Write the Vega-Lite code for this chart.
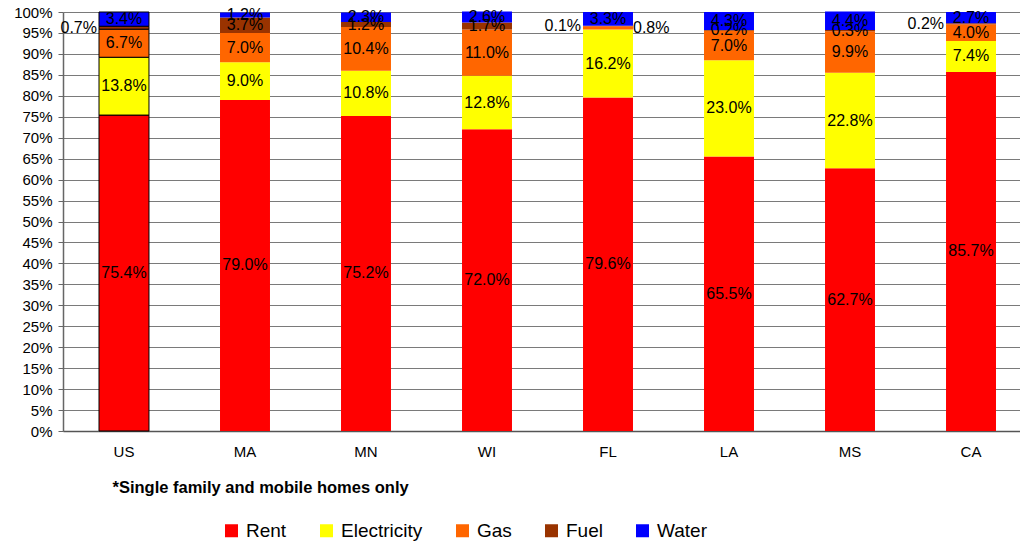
{
  "$schema": "https://vega.github.io/schema/vega-lite/v6.json",
  "autosize": {"type": "none"},
  "padding": {"left": 63, "top": 12, "right": 0, "bottom": 112},
  "width": 957,
  "height": 419,
  "background": "white",
  "config": {
    "view": {"stroke": null},
    "font": "Liberation Sans",
    "axis": {"labelFont": "Liberation Sans", "titleFont": "Liberation Sans", "labelColor": "black", "titleColor": "black"},
    "legend": {"labelFont": "Liberation Sans"}
  },
  "data": {
    "values": [
      {"state": "US", "type": "Rent", "value": 75.4},
      {"state": "US", "type": "Electricity", "value": 13.8},
      {"state": "US", "type": "Gas", "value": 6.7},
      {"state": "US", "type": "Fuel", "value": 0.7},
      {"state": "US", "type": "Water", "value": 3.4},
      {"state": "MA", "type": "Rent", "value": 79.0},
      {"state": "MA", "type": "Electricity", "value": 9.0},
      {"state": "MA", "type": "Gas", "value": 7.0},
      {"state": "MA", "type": "Fuel", "value": 3.7},
      {"state": "MA", "type": "Water", "value": 1.2},
      {"state": "MN", "type": "Rent", "value": 75.2},
      {"state": "MN", "type": "Electricity", "value": 10.8},
      {"state": "MN", "type": "Gas", "value": 10.4},
      {"state": "MN", "type": "Fuel", "value": 1.2},
      {"state": "MN", "type": "Water", "value": 2.3},
      {"state": "WI", "type": "Rent", "value": 72.0},
      {"state": "WI", "type": "Electricity", "value": 12.8},
      {"state": "WI", "type": "Gas", "value": 11.0},
      {"state": "WI", "type": "Fuel", "value": 1.7},
      {"state": "WI", "type": "Water", "value": 2.6},
      {"state": "FL", "type": "Rent", "value": 79.6},
      {"state": "FL", "type": "Electricity", "value": 16.2},
      {"state": "FL", "type": "Gas", "value": 0.8},
      {"state": "FL", "type": "Fuel", "value": 0.1},
      {"state": "FL", "type": "Water", "value": 3.3},
      {"state": "LA", "type": "Rent", "value": 65.5},
      {"state": "LA", "type": "Electricity", "value": 23.0},
      {"state": "LA", "type": "Gas", "value": 7.0},
      {"state": "LA", "type": "Fuel", "value": 0.2},
      {"state": "LA", "type": "Water", "value": 4.3},
      {"state": "MS", "type": "Rent", "value": 62.7},
      {"state": "MS", "type": "Electricity", "value": 22.8},
      {"state": "MS", "type": "Gas", "value": 9.9},
      {"state": "MS", "type": "Fuel", "value": 0.3},
      {"state": "MS", "type": "Water", "value": 4.4},
      {"state": "CA", "type": "Rent", "value": 85.7},
      {"state": "CA", "type": "Electricity", "value": 7.4},
      {"state": "CA", "type": "Gas", "value": 4.0},
      {"state": "CA", "type": "Fuel", "value": 0.2},
      {"state": "CA", "type": "Water", "value": 2.7}
    ]
  },
  "transform": [
    {"calculate": "indexof(['Rent','Electricity','Gas','Fuel','Water'], datum.type)", "as": "ord"},
    {"stack": "value", "groupby": ["state"], "sort": [{"field": "ord", "order": "ascending"}], "as": ["y0", "y1"]},
    {"calculate": "(datum.y0 + datum.y1) / 2", "as": "mid"},
    {"calculate": "format(datum.value, '.1f') + '%'", "as": "label"}
  ],
  "encoding": {
    "x": {
      "field": "state",
      "type": "nominal",
      "sort": ["US", "MA", "MN", "WI", "FL", "LA", "MS", "CA"],
      "scale": {"paddingInner": 0.587, "paddingOuter": 0.248, "align": 0.6},
      "axis": {
        "labelAngle": 0,
        "labelFontSize": 15,
        "labelPadding": 13,
        "ticks": false,
        "domainColor": "#555555",
        "domainWidth": 1.5,
        "title": "*Single family and mobile homes only",
        "titleFontSize": 16.5,
        "titleFontWeight": "bold",
        "titleAlign": "left",
        "titleBaseline": "middle",
        "titleX": 49,
        "titleY": 56
      }
    }
  },
  "layer": [
    {
      "mark": {"type": "bar"},
      "encoding": {
        "y": {
          "field": "y1",
          "type": "quantitative",
          "scale": {"domain": [0, 100], "nice": false},
          "axis": {
            "values": [0, 5, 10, 15, 20, 25, 30, 35, 40, 45, 50, 55, 60, 65, 70, 75, 80, 85, 90, 95, 100],
            "labelExpr": "datum.value + '%'",
            "labelOverlap": false,
            "labelFontSize": 15,
            "labelPadding": 6,
            "tickSize": 5,
            "tickColor": "#666666",
            "domainColor": "#666666",
            "domainWidth": 1.5,
            "grid": true,
            "gridColor": "#7a7a7a",
            "gridWidth": 1,
            "title": null
          }
        },
        "y2": {"field": "y0"},
        "color": {
          "field": "type",
          "type": "nominal",
          "sort": ["Rent", "Electricity", "Gas", "Fuel", "Water"],
          "scale": {
            "domain": ["Rent", "Electricity", "Gas", "Fuel", "Water"],
            "range": ["#FF0000", "#FFFF00", "#FF6600", "#993300", "#0000FF"]
          },
          "legend": {
            "orient": "none",
            "direction": "horizontal",
            "legendX": 159,
            "legendY": 509,
            "title": null,
            "padding": 0,
            "symbolType": "square",
            "symbolSize": 169,
            "symbolStrokeWidth": 0,
            "labelFontSize": 19,
            "labelColor": "black",
            "labelOffset": 5,
            "columnPadding": 30
          }
        },
        "stroke": {"condition": {"test": "datum.state === 'US'", "value": "black"}, "value": null},
        "strokeWidth": {"value": 1}
      }
    },
    {
      "transform": [
        {"filter": "!((datum.state === 'US' && datum.type === 'Fuel') || (datum.state === 'FL' && (datum.type === 'Fuel' || datum.type === 'Gas')) || (datum.state === 'CA' && datum.type === 'Fuel'))"}
      ],
      "mark": {"type": "text", "fontSize": 16, "color": "black", "baseline": "middle", "align": "center"},
      "encoding": {
        "y": {
          "field": "mid",
          "type": "quantitative",
          "axis": {
            "values": [0, 5, 10, 15, 20, 25, 30, 35, 40, 45, 50, 55, 60, 65, 70, 75, 80, 85, 90, 95, 100],
            "labelExpr": "datum.value + '%'",
            "labelOverlap": false,
            "labelFontSize": 15,
            "labelPadding": 6,
            "tickSize": 5,
            "tickColor": "#666666",
            "domainColor": "#666666",
            "domainWidth": 1.5,
            "grid": true,
            "gridColor": "#7a7a7a",
            "gridWidth": 1,
            "title": null
          }
        },
        "text": {"field": "label"}
      }
    },
    {
      "transform": [
        {"filter": "(datum.state === 'US' || datum.state === 'FL' || datum.state === 'CA') && datum.type === 'Fuel'"}
      ],
      "mark": {"type": "text", "fontSize": 16, "color": "black", "baseline": "middle", "align": "right", "dx": -27},
      "encoding": {
        "y": {
          "field": "mid",
          "type": "quantitative",
          "axis": {
            "values": [0, 5, 10, 15, 20, 25, 30, 35, 40, 45, 50, 55, 60, 65, 70, 75, 80, 85, 90, 95, 100],
            "labelExpr": "datum.value + '%'",
            "labelOverlap": false,
            "labelFontSize": 15,
            "labelPadding": 6,
            "tickSize": 5,
            "tickColor": "#666666",
            "domainColor": "#666666",
            "domainWidth": 1.5,
            "grid": true,
            "gridColor": "#7a7a7a",
            "gridWidth": 1,
            "title": null
          }
        },
        "text": {"field": "label"}
      }
    },
    {
      "transform": [
        {"filter": "datum.state === 'FL' && datum.type === 'Gas'"}
      ],
      "mark": {"type": "text", "fontSize": 16, "color": "black", "baseline": "middle", "align": "left", "dx": 25},
      "encoding": {
        "y": {
          "field": "mid",
          "type": "quantitative",
          "axis": {
            "values": [0, 5, 10, 15, 20, 25, 30, 35, 40, 45, 50, 55, 60, 65, 70, 75, 80, 85, 90, 95, 100],
            "labelExpr": "datum.value + '%'",
            "labelOverlap": false,
            "labelFontSize": 15,
            "labelPadding": 6,
            "tickSize": 5,
            "tickColor": "#666666",
            "domainColor": "#666666",
            "domainWidth": 1.5,
            "grid": true,
            "gridColor": "#7a7a7a",
            "gridWidth": 1,
            "title": null
          }
        },
        "text": {"field": "label"}
      }
    }
  ]
}
